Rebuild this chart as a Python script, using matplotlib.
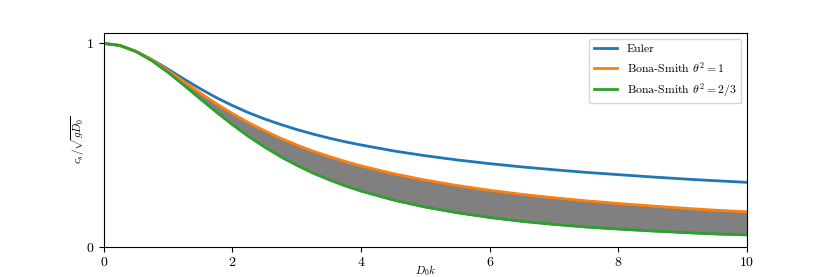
import numpy as np
import matplotlib
matplotlib.use("Agg")
import matplotlib.pyplot as plt

plt.rcParams['font.family'] = 'serif'
plt.rcParams['font.serif'] = ['cmr10', 'DejaVu Serif']
plt.rcParams['mathtext.fontset'] = 'cm'
plt.rcParams['axes.formatter.use_mathtext'] = True

# wavenumber D0*k
k = [0, 0.25, 0.5, 0.75, 1, 1.25, 1.5, 1.75, 2, 2.25, 2.5, 2.75, 3, 3.25, 3.5, 3.75,
     4, 4.5, 5, 5.5, 6, 6.5, 7, 7.5, 8, 8.5, 9, 9.5, 10]

# phase speed c_s / sqrt(g D0)
euler = [1.0, 0.990, 0.961, 0.920, 0.873, 0.824, 0.777, 0.733, 0.694, 0.659, 0.628, 0.601,
         0.576, 0.554, 0.534, 0.516, 0.500, 0.471, 0.447, 0.426, 0.408, 0.392, 0.378,
         0.365, 0.354, 0.343, 0.333, 0.324, 0.316]
bs_1 = [1.0, 0.990, 0.961, 0.918, 0.866, 0.811, 0.756, 0.703, 0.655, 0.610, 0.570, 0.533,
        0.500, 0.470, 0.444, 0.419, 0.397, 0.359, 0.327, 0.300, 0.277, 0.257, 0.240,
        0.225, 0.212, 0.200, 0.189, 0.179, 0.171]
bs_23 = [1.0, 0.990, 0.960, 0.914, 0.857, 0.793, 0.727, 0.662, 0.600, 0.542, 0.490, 0.442,
         0.400, 0.362, 0.329, 0.299, 0.273, 0.229, 0.194, 0.166, 0.143, 0.124, 0.109,
         0.096, 0.086, 0.077, 0.069, 0.062, 0.057]

fig, ax = plt.subplots(figsize=(8.3, 2.77), dpi=100)

ax.fill_between(k, bs_23, bs_1, color='gray')
ax.plot(k, euler, color='C0', lw=2, label='Euler')
ax.plot(k, bs_1, color='C1', lw=2, label=r'Bona-Smith $\theta^2=1$')
ax.plot(k, bs_23, color='C2', lw=2, label=r'Bona-Smith $\theta^2=2/3$')

ax.set_xlim(0, 10)
ax.set_ylim(0, 1.05)
ax.set_yticks([0, 1])
ax.set_xticks([0, 2, 4, 6, 8, 10])
ax.set_xlabel(r'$D_0k$', fontsize=8)
ax.set_ylabel(r'$c_s/\sqrt{gD_0}$', fontsize=8)
ax.xaxis.set_label_coords(0.5, -0.08)
ax.yaxis.set_label_coords(-0.026, 0.5)
ax.legend(loc='upper right', fontsize=8.5)

plt.savefig('out.png', dpi=100)
